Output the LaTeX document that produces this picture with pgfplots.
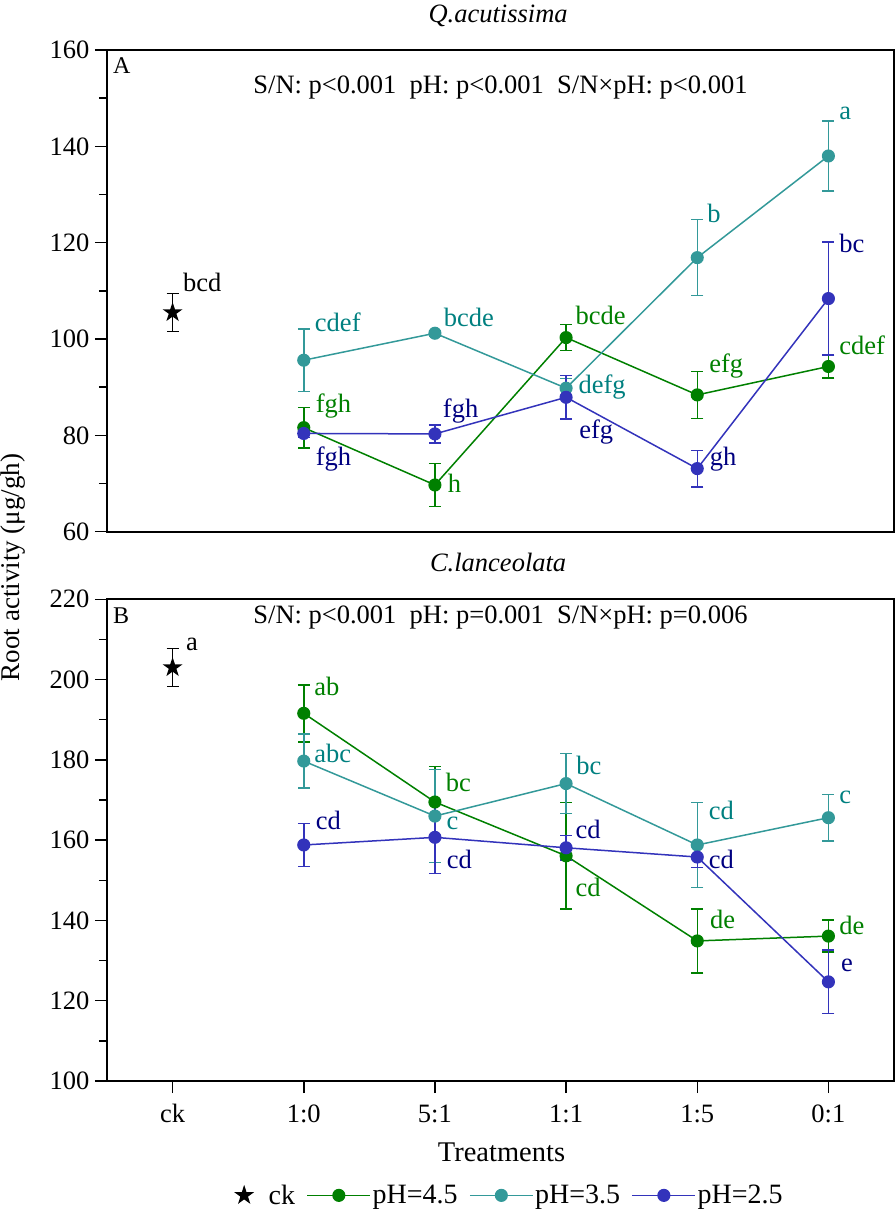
\documentclass[border=0pt]{standalone}
\usepackage{fontspec}
\setmainfont{Liberation Serif}
\usepackage{pgfplots}
\pgfplotsset{compat=1.18}
\definecolor{cg}{RGB}{0,128,0}
\definecolor{ct}{RGB}{51,153,153}
\definecolor{ctt}{RGB}{0,128,128}
\definecolor{cb}{RGB}{51,51,187}
\definecolor{cbt}{RGB}{0,0,128}
\newcommand{\fs}{\fontsize{26.5}{31}\selectfont}
\newcommand{\fst}{\fontsize{26.5}{31}\selectfont}
\newcommand{\fsg}{\fontsize{28}{32}\selectfont}
\newcommand{\fsl}{\fontsize{28.5}{32}\selectfont}
\pgfdeclareplotmark{fstar}{%
  \pgfpathmoveto{\pgfpointpolar{90}{\pgfplotmarksize}}%
  \pgfpathlineto{\pgfpointpolar{126}{0.382\pgfplotmarksize}}%
  \pgfpathlineto{\pgfpointpolar{162}{\pgfplotmarksize}}%
  \pgfpathlineto{\pgfpointpolar{198}{0.382\pgfplotmarksize}}%
  \pgfpathlineto{\pgfpointpolar{234}{\pgfplotmarksize}}%
  \pgfpathlineto{\pgfpointpolar{270}{0.382\pgfplotmarksize}}%
  \pgfpathlineto{\pgfpointpolar{306}{\pgfplotmarksize}}%
  \pgfpathlineto{\pgfpointpolar{342}{0.382\pgfplotmarksize}}%
  \pgfpathlineto{\pgfpointpolar{18}{\pgfplotmarksize}}%
  \pgfpathlineto{\pgfpointpolar{54}{0.382\pgfplotmarksize}}%
  \pgfpathclose\pgfusepathqfill}
\pgfplotsset{
 base/.style={scale only axis, width=787pt, height=481.7pt, xmin=-0.5, xmax=5.5,
   font=\fst,
   axis line style={line width=1.8pt}, tick style={line width=1.5pt, black},
   tick align=outside, major tick length=12pt, minor tick length=8pt,
   tick pos=left, minor y tick num=1,
   /pgf/number format/assume math mode=true,
   tick label style={font=\fst},
   xticklabel style={font=\fst, yshift=-8pt},
   yticklabel style={font=\fst, xshift=-2pt},
   clip=false,
   legend image code/.code={\draw[mark repeat=2,mark phase=2] plot coordinates {(0pt,0pt) (31.5pt,0pt) (63pt,0pt)};},
 },
 eb/.style={line width=1.5pt, error bars/y dir=both, error bars/y explicit,
   error bars/error bar style={line width=1.5pt},
   error bars/error mark options={rotate=90, mark size=6pt, line width=1.5pt}},
 sk/.style={eb, black, only marks, mark=fstar, mark size=10.5pt, mark options={fill=black}},
 sg/.style={eb, color=cg, mark=*, mark size=5.8pt, mark options={fill=cg, draw=none}},
 st/.style={eb, color=ct, mark=*, mark size=5.8pt, mark options={fill=ct, draw=none}},
 sb/.style={eb, color=cb, mark=*, mark size=5.8pt, mark options={fill=cb, draw=none}},
}
\begin{document}
\begin{tikzpicture}
\useasboundingbox (0,0) rectangle (896pt,-1211pt);
% ---------------- Panel A ----------------
\begin{axis}[base, at={(107pt,-50pt)}, anchor=north west,
  ymin=60, ymax=160, ytick={60,80,...,160}, xtick=\empty]
\addplot[sk] coordinates {(0,105.5) +- (0,3.9)};
\addplot[sg] coordinates {(1,81.6) +- (0,4.2) (2,69.7) +- (0,4.5) (3,100.3) +- (0,2.7) (4,88.4) +- (0,4.9) (5,94.3) +- (0,2.4)};
\addplot[st] coordinates {(1,95.6) +- (0,6.5) (2,101.2) +- (0,0.6) (3,89.8) +- (0,2.0) (4,116.9) +- (0,7.9) (5,138.0) +- (0,7.3)};
\addplot[sb] coordinates {(1,80.4) +- (0,0.8) (2,80.3) +- (0,1.9) (3,87.9) +- (0,4.5) (4,73.1) +- (0,3.8) (5,108.4) +- (0,11.7)};
\node[anchor=base west, inner sep=0, font=\fontsize{24}{28}\selectfont] at (rel axis cs:0.0076,0.9516) {A};
\node[anchor=base, inner sep=0, font=\fs] at (rel axis cs:0.5,0.910) {S/N: p<0.001\ \ pH: p<0.001\ \ S/N×pH: p<0.001};
\node[anchor=base, inner sep=0, font=\fs\itshape] at (rel axis cs:0.497,1.0567) {Q.acutissima};
\begin{scope}[every node/.style={anchor=west, inner sep=0, font=\fs}]
\node[text=black] at (axis cs:0.078,111.8) {bcd};
\node[text=ctt] at (axis cs:1.084,103.4) {cdef};
\node[text=ctt] at (axis cs:2.066,104.4) {bcde};
\node[text=cg] at (axis cs:1.09,86.1) {fgh};
\node[text=cbt] at (axis cs:1.09,75.1) {fgh};
\node[text=cbt] at (axis cs:2.06,85.1) {fgh};
\node[text=cg] at (axis cs:2.097,70.1) {h};
\node[text=cg] at (axis cs:3.072,105.0) {bcde};
\node[text=ctt] at (axis cs:3.094,90.1) {defg};
\node[text=cbt] at (axis cs:3.10,80.6) {efg};
\node[text=ctt] at (axis cs:4.075,126.0) {b};
\node[text=cg] at (axis cs:4.09,94.3) {efg};
\node[text=cbt] at (axis cs:4.095,75.1) {gh};
\node[text=ctt] at (axis cs:5.082,146.9) {a};
\node[text=cbt] at (axis cs:5.082,119.9) {bc};
\node[text=cg] at (axis cs:5.082,98.8) {cdef};
\end{scope}
\end{axis}
% ---------------- Panel B ----------------
\begin{axis}[base, at={(107pt,-599.3pt)}, anchor=north west,
  ymin=100, ymax=220, ytick={100,120,...,220},
  xtick={0,1,2,3,4,5}, xticklabels={ck,1:0,5:1,1:1,1:5,0:1},
  legend columns=4,
  legend style={draw=none, fill=none, at={(0.511,-0.2374)}, anchor=center, font=\fsg,
    nodes={inner sep=1.5pt}}]
\addplot[sk] coordinates {(0,203.0) +- (0,4.7)};
\addlegendentry{\fsg\hspace{13pt}ck\hspace{10pt}\null}
\addplot[sg] coordinates {(1,191.6) +- (0,7.1) (2,169.5) +- (0,8.8) (3,156.1) +- (0,13.3) (4,134.9) +- (0,8.0) (5,136.1) +- (0,4.0)};
\addlegendentry{\fsg pH=4.5\hspace{10pt}\null}
\addplot[st] coordinates {(1,179.7) +- (0,6.7) (2,166.0) +- (0,11.6) (3,174.1) +- (0,7.5) (4,158.8) +- (0,10.6) (5,165.6) +- (0,5.8)};
\addlegendentry{\fsg pH=3.5\hspace{10pt}\null}
\addplot[sb] coordinates {(1,158.8) +- (0,5.4) (2,160.7) +- (0,9.0) (3,158.1) +- (0,3.0) (4,155.8) +- (0,2.6) (5,124.7) +- (0,7.9)};
\addlegendentry{\fsg pH=2.5}
\node[anchor=base west, inner sep=0, font=\fontsize{24}{28}\selectfont] at (rel axis cs:0.0076,0.950) {B};
\node[anchor=base, inner sep=0, font=\fs] at (rel axis cs:0.5,0.950) {S/N: p<0.001\ \ pH: p=0.001\ \ S/N×pH: p=0.006};
\node[anchor=base, inner sep=0, font=\fs\itshape] at (rel axis cs:0.497,1.0573) {C.lanceolata};
\begin{scope}[every node/.style={anchor=west, inner sep=0, font=\fs}]
\node[text=black] at (axis cs:0.101,208.8) {a};
\node[text=cg] at (axis cs:1.08,198.2) {ab};
\node[text=ctt] at (axis cs:1.08,181.6) {abc};
\node[text=cbt] at (axis cs:1.09,164.8) {cd};
\node[text=cg] at (axis cs:2.082,174.5) {bc};
\node[text=ctt] at (axis cs:2.087,164.2) {c};
\node[text=cbt] at (axis cs:2.09,155.2) {cd};
\node[text=ctt] at (axis cs:3.077,178.7) {bc};
\node[text=cbt] at (axis cs:3.072,162.7) {cd};
\node[text=cg] at (axis cs:3.072,148.1) {cd};
\node[text=ctt] at (axis cs:4.087,167.5) {cd};
\node[text=cbt] at (axis cs:4.087,155.2) {cd};
\node[text=cg] at (axis cs:4.097,140.3) {de};
\node[text=ctt] at (axis cs:5.082,170.6) {c};
\node[text=cg] at (axis cs:5.082,138.8) {de};
\node[text=cbt] at (axis cs:5.095,128.7) {e};
\end{scope}
\end{axis}
\node[anchor=base, inner sep=0, font=\fsl] at (501.5pt,-1161pt) {Treatments};
\node[rotate=90, anchor=center, inner sep=0, font=\fontsize{27}{31}\selectfont] at (13.5pt,-567.5pt) {Root activity (μg/gh)};
\end{tikzpicture}
\end{document}
